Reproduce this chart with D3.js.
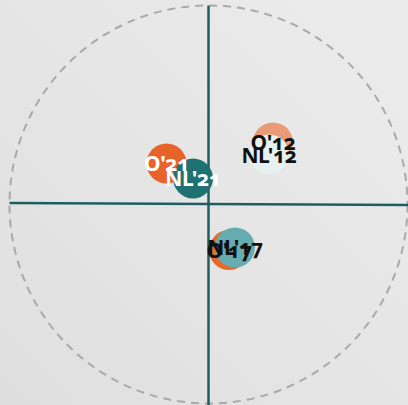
<!DOCTYPE html>
<html>
<head>
<meta charset="utf-8">
<script src="https://cdn.jsdelivr.net/npm/d3@7/dist/d3.min.js"></script>
<style>
  html, body { margin: 0; padding: 0; overflow: hidden; }
  svg { display: block; }
  .lbl { font-family: "Noto Sans", sans-serif; font-weight: 700; font-variant-numeric: oldstyle-nums; letter-spacing: -0.4px; }
</style>
</head>
<body>
<script>
// Bubble positions on a -1..1 grid (x: horizontal, y: vertical)
const labels  = ["O'12", "NL'12", "O'17", "NL'17", "O'21", "NL'21"];
const xValues = [0.324, 0.304, 0.103, 0.133, -0.211, -0.078];
const yValues = [0.312, 0.251, -0.229, -0.216, 0.206, 0.131];
const fills   = ["#e99a76", "#e6f1ef", "#e8692e", "#66adb1", "#e8632a", "#1e7272"];
const textFills = ["#111111", "#111111", "#111111", "#111111", "#ffffff", "#ffffff"];

const W = 408, H = 405;
const cx = 208.5, cy = 204.5, R = 199;

const x = d3.scaleLinear().domain([-1, 1]).range([cx - R, cx + R]);
const y = d3.scaleLinear().domain([-1, 1]).range([cy + R, cy - R]);

const svg = d3.select("body").append("svg").attr("width", W).attr("height", H);

const defs = svg.append("defs");
const grad = defs.append("linearGradient").attr("id", "bg")
  .attr("x1", "100%").attr("y1", "0%").attr("x2", "0%").attr("y2", "100%");
grad.append("stop").attr("offset", "0%").attr("stop-color", "#ececec");
grad.append("stop").attr("offset", "100%").attr("stop-color", "#dfdfdf");
svg.append("rect").attr("width", W).attr("height", H).attr("fill", "url(#bg)");

// unit circle boundary
svg.append("circle")
  .attr("cx", x(0)).attr("cy", y(0)).attr("r", x(1) - x(0))
  .attr("fill", "none").attr("stroke", "#a9a9a9").attr("stroke-width", 2)
  .attr("stroke-dasharray", "8,6");

// axes through the origin
const axisColor = "#1d5f60";
svg.append("line")
  .attr("x1", x(0)).attr("x2", x(0)).attr("y1", y(1)).attr("y2", H)
  .attr("stroke", axisColor).attr("stroke-width", 2.5);
svg.append("line")
  .attr("x1", x(-1)).attr("x2", W).attr("y1", y(0) - 1.5).attr("y2", y(0) + 0.5)
  .attr("stroke", axisColor).attr("stroke-width", 2.5);

const data = labels.map((l, i) => ({ label: l, x: xValues[i], y: yValues[i], fill: fills[i], tf: textFills[i] }));

svg.append("g").selectAll("circle").data(data).join("circle")
  .attr("cx", d => x(d.x)).attr("cy", d => y(d.y)).attr("r", 20)
  .attr("fill", d => d.fill);

svg.append("g").selectAll("text").data(data).join("text")
  .attr("class", "lbl")
  .attr("x", d => x(d.x)).attr("y", d => y(d.y))
  .attr("dy", "0.38em")
  .attr("text-anchor", "middle")
  .attr("font-size", 21)
  .attr("fill", d => d.tf)
  .text(d => d.label);
</script>
</body>
</html>
